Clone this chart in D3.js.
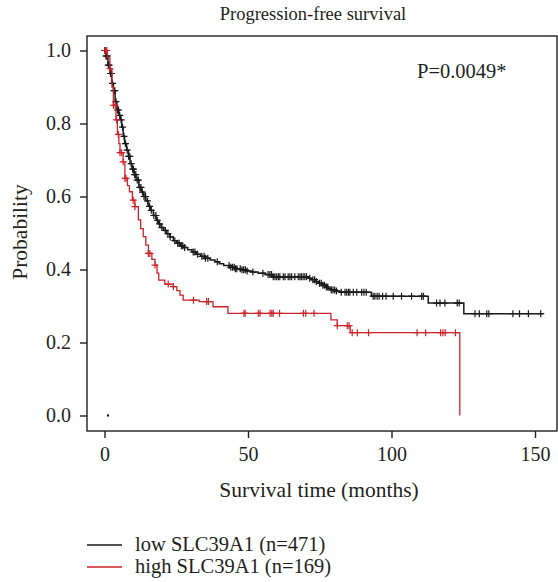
<!DOCTYPE html>
<html>
<head>
<meta charset="utf-8">
<script src="https://cdn.jsdelivr.net/npm/d3@7"></script>
<style>
  body { margin: 0; background: #fff; }
  text { font-family: "Liberation Serif", serif; fill: #231f20; }
</style>
</head>
<body>
<div class="chart"></div>
<script>
// Kaplan-Meier steps [months, survival]
const lowSteps = [
  [0, 1.0], [0.5, 0.985], [1.2, 0.96], [1.9, 0.937], [2.5, 0.91], [3.1, 0.89], [3.7, 0.86],
  [4.3, 0.837], [5.0, 0.822], [5.5, 0.81], [6.0, 0.79], [6.5, 0.765], [7.0, 0.745], [7.7, 0.727],
  [8.3, 0.71], [8.9, 0.69], [9.6, 0.675], [10.3, 0.66], [11.0, 0.645], [12.0, 0.625], [12.8, 0.612],
  [13.6, 0.6], [14.4, 0.588], [15.2, 0.573], [16.0, 0.562], [17.0, 0.548], [18.0, 0.535], [18.8, 0.525],
  [19.7, 0.515], [20.6, 0.507], [21.6, 0.498], [22.8, 0.489], [24.0, 0.479], [25.2, 0.472], [26.4, 0.465],
  [27.6, 0.46], [29.0, 0.454], [30.5, 0.448], [32.0, 0.442], [33.5, 0.436], [35.0, 0.431], [36.8, 0.426],
  [38.5, 0.421], [40.0, 0.416], [41.5, 0.411], [43.5, 0.406], [45.5, 0.402], [47.5, 0.399], [49.5, 0.396],
  [51.5, 0.393], [53.5, 0.39], [56.0, 0.386], [58.5, 0.38], [71.0, 0.376], [72.2, 0.372], [73.3, 0.367],
  [74.5, 0.362], [75.6, 0.357], [76.8, 0.352], [77.9, 0.348], [79.0, 0.344], [80.3, 0.341], [82.0, 0.338],
  [93.0, 0.327], [112.8, 0.308], [125.2, 0.279]
];
const lowEnd = 152.9;

const highSteps = [
  [0, 1.0], [1.0, 0.98], [1.9, 0.95], [2.6, 0.9], [3.1, 0.85], [4.0, 0.81], [4.5, 0.77], [5.0, 0.745],
  [5.4, 0.72], [6.5, 0.695], [7.1, 0.65], [8.0, 0.63], [8.7, 0.613], [9.7, 0.59], [10.6, 0.572],
  [11.8, 0.536], [12.6, 0.512], [13.5, 0.49], [14.4, 0.467], [15.3, 0.444], [16.5, 0.428], [17.6, 0.412],
  [18.3, 0.39], [18.9, 0.371], [21.0, 0.36], [24.0, 0.353], [25.2, 0.342], [26.3, 0.33], [27.4, 0.316],
  [33.0, 0.312], [37.8, 0.298], [43.0, 0.28], [78.9, 0.262], [81.1, 0.246], [85.6, 0.227], [123.8, 0.0]
];

// censored times (months)
const lowCensor = [
  0.1, 0.3, 0.5, 0.7, 1.0, 1.3, 1.6, 2.1, 2.4, 2.8, 3.3, 3.6, 4.0, 4.5, 4.9, 5.3, 5.8, 6.3, 6.8, 7.3,
  7.9, 8.4, 8.8, 9.3, 9.8, 10.1, 10.5, 10.9, 11.4, 11.8, 12.3, 12.7, 13.2, 13.8, 14.3, 15.0, 15.7, 16.3,
  17.2, 17.9, 18.4, 19.2, 20.0, 21.2, 22.1, 22.9, 24.5, 25.5, 26.0, 26.8, 27.3, 27.9, 30.9, 31.5, 32.4,
  33.9, 34.7, 35.2, 36.0, 39.3, 43.4, 44.0, 44.6, 45.2, 45.6, 46.1, 47.3, 47.9, 48.5, 49.1, 49.7, 51.7,
  55.2, 57.0, 57.6, 58.2, 58.8, 59.4, 60.0, 60.6, 61.1, 62.3, 62.9, 64.0, 64.6, 65.2, 66.3, 67.5, 68.1,
  68.6, 69.2, 69.8, 70.4, 71.5, 72.6, 73.2, 73.8, 74.9, 75.5, 76.1, 76.7, 77.3, 77.8, 79.0, 79.6, 80.2,
  80.8, 82.5, 83.8, 84.4, 85.0, 85.5, 86.7, 87.9, 89.6, 90.4, 91.2, 93.6, 94.2, 95.0, 95.7, 96.9, 98.1,
  100.6, 103.5, 107.0, 110.5, 111.1, 115.7, 116.9, 118.6, 122.9, 123.6, 129.1, 130.6, 133.2, 133.9,
  142.3, 144.6, 147.7, 152.0
];
const highCensor = [
  0.2, 0.4, 0.8, 1.9, 3.1, 3.7, 4.2, 4.8, 5.4, 6.0, 6.5, 7.1, 7.5, 10.0, 10.6, 15.3, 15.8, 17.6, 22.2,
  24.0, 31.0, 35.6, 36.2, 48.6, 49.0, 53.6, 54.2, 57.7, 58.3, 58.8, 61.0, 69.3, 70.1, 73.0, 81.1, 84.6,
  85.2, 86.3, 88.1, 92.0, 108.9, 111.9, 117.1, 117.9, 118.7, 122.3
];
const strayPoint = [1.2, 0];

const xTicks = [0, 50, 100, 150];
const yTicks = [0, 0.2, 0.4, 0.6, 0.8, 1.0];
const legendLabels = ["low SLC39A1 (n=471)", "high SLC39A1 (n=169)"];
const pLabel = "P=0.0049*";

const W = 558, H = 582;
const box = { left: 87, right: 557, top: 36, bottom: 431 };
const colors = ["#1a1a1a", "#cc2229"];

const svg = d3.select(".chart").append("svg")
  .attr("width", W).attr("height", H);

const x = d3.scaleLinear().domain([0, 150]).range([104.5, 535]);
const y = d3.scaleLinear().domain([0, 1]).range([415.5, 50.5]);

// frame
svg.append("rect")
  .attr("x", box.left).attr("y", box.top)
  .attr("width", box.right - box.left).attr("height", box.bottom - box.top)
  .attr("fill", "none").attr("stroke", "#231f20").attr("stroke-width", 1.4);

const yAxis = d3.axisLeft(y).tickValues(yTicks).tickSize(7).tickPadding(9)
  .tickFormat(d3.format(".1f"));
svg.append("g")
  .attr("class", "axis y-axis")
  .attr("transform", `translate(${box.left},0)`)
  .call(yAxis);

const xAxis = d3.axisBottom(x).tickValues(xTicks).tickSize(7).tickPadding(9);
svg.append("g")
  .attr("class", "axis x-axis")
  .attr("transform", `translate(0,${box.bottom})`)
  .call(xAxis);

svg.selectAll(".axis .domain").remove();
svg.selectAll(".axis line").attr("stroke", "#231f20").attr("stroke-width", 1.4);
svg.selectAll(".axis text").attr("font-size", 20).attr("font-family", "Liberation Serif").attr("fill", "#231f20");

function survAt(steps, t) {
  let s = steps[0][1];
  steps.forEach(d => { if (d[0] <= t) s = d[1]; });
  return s;
}

const line = d3.line()
  .x(d => x(d[0]))
  .y(d => y(d[1]))
  .curve(d3.curveStepAfter);

const lowPath = lowSteps.concat([[lowEnd, lowSteps[lowSteps.length - 1][1]]]);

const series = [
  { key: "low", path: lowPath, steps: lowSteps, censor: lowCensor, color: colors[0], w: 1.5 },
  { key: "high", path: highSteps, steps: highSteps, censor: highCensor, color: colors[1], w: 1.3 }
];

series.forEach(s => {
  svg.append("path")
    .datum(s.path)
    .attr("d", line)
    .attr("fill", "none")
    .attr("stroke", s.color)
    .attr("stroke-width", s.w);

  svg.append("g").selectAll("path")
    .data(s.censor)
    .join("path")
    .attr("d", t => {
      const cx = x(t), cy = y(survAt(s.steps, t));
      return `M${cx - 3.5},${cy}H${cx + 3.5}M${cx},${cy - 3.5}V${cy + 3.5}`;
    })
    .attr("stroke", s.color)
    .attr("stroke-width", 1.2);
});

svg.append("rect")
  .attr("x", x(strayPoint[0]) - 1).attr("y", y(strayPoint[1]) - 1)
  .attr("width", 2).attr("height", 2)
  .attr("fill", "#000");

// texts
svg.append("text")
  .attr("x", 313).attr("y", 20)
  .attr("text-anchor", "middle").attr("font-size", 18.5)
  .text("Progression-free survival");

svg.append("text")
  .attr("x", 417).attr("y", 78)
  .attr("font-size", 20.5)
  .text(pLabel);

svg.append("text")
  .attr("transform", "translate(27,232) rotate(-90)")
  .attr("text-anchor", "middle").attr("font-size", 21.5)
  .text("Probability");

svg.append("text")
  .attr("x", 319).attr("y", 497)
  .attr("text-anchor", "middle").attr("font-size", 21.5)
  .text("Survival time (months)");

const legend = svg.append("g");
legendLabels.forEach((lab, i) => {
  const ly = 545 + i * 22;
  legend.append("line")
    .attr("x1", 87).attr("x2", 122).attr("y1", ly).attr("y2", ly)
    .attr("stroke", colors[i]).attr("stroke-width", 1.3);
  legend.append("text")
    .attr("x", 135).attr("y", ly + 6)
    .attr("font-size", 20.5)
    .text(lab);
});
</script>
</body>
</html>
